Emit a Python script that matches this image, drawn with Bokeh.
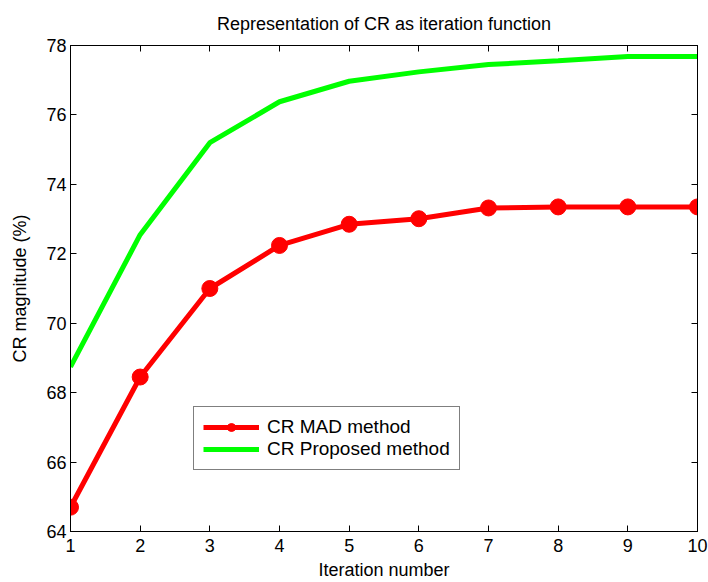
from bokeh.plotting import figure
from bokeh.models import (LinearAxis, Range1d, FixedTicker, Legend, LegendItem, Title,
                          CustomJSTickFormatter)
from bokeh.embed import file_html
from bokeh.resources import INLINE

iterations = [1, 2, 3, 4, 5, 6, 7, 8, 9, 10]
cr_mad = [64.7, 68.45, 71.0, 72.24, 72.85, 73.01, 73.32, 73.35, 73.35, 73.35]
cr_proposed = [68.74, 72.55, 75.2, 76.38, 76.97, 77.24, 77.45, 77.56, 77.68, 77.68]
x_ticks = [1, 2, 3, 4, 5, 6, 7, 8, 9, 10]
y_ticks = [64, 66, 68, 70, 72, 74, 76, 78]
title_text = "Representation of CR as iteration function"

FONT = "Liberation Sans"

p = figure(width=708, height=582, output_backend="svg", toolbar_location=None,
           x_range=Range1d(1, 10), y_range=Range1d(64, 78),
           min_border_left=70, min_border_right=11, min_border_top=45, min_border_bottom=50)
p.title = None
p.background_fill_color = "white"
p.border_fill_color = "white"
p.outline_line_color = "black"
p.outline_line_width = 1
p.xgrid.visible = False
p.ygrid.visible = False

def style_axis(ax, labels=True):
    ax.major_tick_in = 6
    ax.major_tick_out = 0
    ax.minor_tick_in = 0
    ax.minor_tick_out = 0
    ax.axis_line_color = "black"
    ax.major_tick_line_color = "black"
    ax.major_label_text_font = FONT
    ax.major_label_text_font_size = "18px"
    ax.major_label_text_color = "black"
    ax.axis_label_text_font = FONT
    ax.axis_label_text_font_style = "normal"
    ax.axis_label_text_font_size = "18px"
    ax.axis_label_text_color = "black"
    if not labels:
        ax.formatter = CustomJSTickFormatter(code="return ''")
        ax.major_label_standoff = 0

p.xaxis.ticker = FixedTicker(ticks=x_ticks)
p.yaxis.ticker = FixedTicker(ticks=y_ticks)
p.xaxis.axis_label = "Iteration number"
p.yaxis.axis_label = "CR magnitude (%)"
p.xaxis.major_label_standoff = 7
p.yaxis.major_label_standoff = 4
p.xaxis.axis_label_standoff = 5
p.yaxis.axis_label_standoff = 13
style_axis(p.xaxis[0])
style_axis(p.yaxis[0])

top_ax = LinearAxis(ticker=FixedTicker(ticks=x_ticks))
right_ax = LinearAxis(ticker=FixedTicker(ticks=y_ticks))
style_axis(top_ax, labels=False)
style_axis(right_ax, labels=False)
p.add_layout(top_ax, "above")
p.add_layout(right_ax, "right")

p.add_layout(Title(text=title_text, align="center",
                   text_font=FONT, text_font_size="18px", text_font_style="normal",
                   text_color="black", standoff=23), "above")

r_prop = p.line(iterations, cr_proposed, line_color="#00ff00", line_width=5)
r_mad = p.line(iterations, cr_mad, line_color="#ff0000", line_width=5)
r_mad_pts = p.scatter(iterations, cr_mad, size=16, marker="circle",
                      fill_color="#ff0000", line_color="#ff0000")

legend = Legend(items=[
    LegendItem(label="CR MAD method", renderers=[r_mad, r_mad_pts]),
    LegendItem(label="CR Proposed method", renderers=[r_prop]),
], location=(123, 61))
legend.label_text_font = FONT
legend.label_text_font_size = "19px"
legend.label_text_color = "black"
legend.border_line_color = "black"
legend.border_line_width = 1
legend.background_fill_alpha = 1
legend.glyph_width = 56
legend.glyph_height = 20
legend.label_height = 20
legend.spacing = 0
legend.padding = 9
legend.margin = 0
legend.label_standoff = 8
p.add_layout(legend, "center")

open("out.html", "w").write(file_html(p, INLINE))
